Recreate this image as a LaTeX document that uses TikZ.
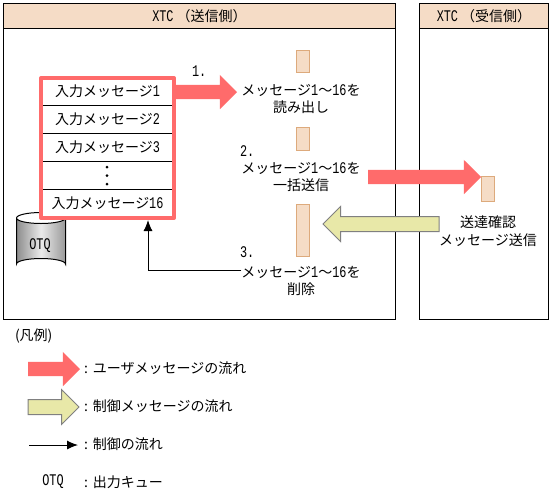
\documentclass[tikz,border=0pt]{standalone}
\usepackage{fontspec}
\setmainfont{Noto Sans CJK JP}
\newfontfamily\latn[FakeStretch=0.73,Scale=1.16]{Liberation Mono}
\newcommand{\hn}[1]{{\latn #1}}
\usetikzlibrary{shapes.arrows,arrows.meta}
\definecolor{hdr}{HTML}{F5DCC6}
\definecolor{hdredge}{HTML}{DDAA7C}
\definecolor{pinkc}{HTML}{FF6B6B}
\definecolor{yel}{HTML}{E8E8A8}
\tikzset{
  x=1pt,y=-1pt,
  every node/.style={font=\fontsize{14}{16}\selectfont,inner sep=0pt,outer sep=0pt},
  panel/.style={draw=black,line width=1pt,anchor=north west},
  header/.style={panel,fill=hdr},
  packet/.style={draw=hdredge,fill=hdr,line width=1pt,minimum width=13pt,anchor=north west},
  inrow/.style={minimum width=133pt,minimum height=28pt,anchor=north west},
  rowline/.style={line width=1pt},
  fatbase/.style={single arrow,single arrow head extend=10pt,anchor=tip},
  userflow/.style={fatbase,fill=pinkc},
  ctrlflow/.style={fatbase,fill=yel,draw=black!50,line width=1pt},
  ctrlline/.style={line width=1pt,-{Latex[length=11pt,width=9pt]}},
  lbl/.style={anchor=west},
}
\newcommand{\shaft}{\rule{0pt}{14pt}}
\newcommand{\lcolon}{\makebox[9pt][l]{:}}
\begin{document}
\begin{tikzpicture}
\useasboundingbox (0,0) rectangle (551,499);
\fill[white] (0,0) rectangle (551,499);
% panels
\node[panel,minimum width=392pt,minimum height=316pt] (send) at (3.5,3.5) {};
\node[header,minimum width=392pt,minimum height=25pt] (sendh) at (3.5,3.5) {\hn{XTC} （送信側）};
\node[panel,minimum width=129pt,minimum height=316pt] (recv) at (419.5,3.5) {};
\node[header,minimum width=129pt,minimum height=25pt] (recvh) at (419.5,3.5) {\hn{XTC} （受信側）};
% cylinder
\shade[left color=black!45,right color=black!40,middle color=black!8,draw=none]
  (16.5,218) -- (16.5,264) arc[start angle=180,end angle=360,x radius=24.5,y radius=5.5]
  -- (65.5,218) arc[start angle=0,end angle=180,x radius=24.5,y radius=5.5] -- cycle;
\draw[line width=1pt] (16.5,218) -- (16.5,264) arc[start angle=180,end angle=360,x radius=24.5,y radius=5.5]
  -- (65.5,218) arc[start angle=0,end angle=180,x radius=24.5,y radius=5.5];
\draw[line width=1pt] (16.5,218) arc[start angle=180,end angle=360,x radius=24.5,y radius=5.5];
\node (otq) at (40,246) {\hn{OTQ}};
% input stack
\node[inrow,fill=white,minimum height=140pt] (stack) at (41,78) {};
\node[inrow,minimum height=27pt] (m1) at (41,78) {入力メッセージ\hn{1}};
\node[inrow] (m2) at (41,105) {入力メッセージ\hn{2}};
\node[inrow] (m3) at (41,133) {入力メッセージ\hn{3}};
\node[inrow] (mdots) at (41,161) {};
\node[inrow,minimum height=29pt] (m16) at (41,189) {入力メッセージ\hn{16}};
\draw[rowline] (m2.north west) -- (m2.north east);
\draw[rowline] (m3.north west) -- (m3.north east);
\draw[rowline] (mdots.north west) -- (mdots.north east);
\draw[rowline] (m16.north west) -- (m16.north east);
\foreach \yy in {167,175.5,184} \fill (107,\yy) circle[radius=1.5];
\draw[pinkc,line width=4pt,line join=round] (stack.north west) rectangle (stack.south east);
% packets
\node[packet,minimum height=22pt] (p1) at (296.5,50.5) {};
\node[packet,minimum height=23pt] (p2) at (296.5,127.5) {};
\node[packet,minimum height=52pt] (p3) at (296.5,204.5) {};
\node[packet,minimum height=25pt] (p4) at (481.5,176.5) {};
% step texts
\node[lbl] (n1) at (192,71) {\hn{1.}};
\node[lbl] (n2) at (240,151) {\hn{2.}};
\node[lbl] (n3) at (240,252) {\hn{3.}};
\node (t1) at (301,90) {メッセージ\hn{1}〜\hn{16}を};
\node (t1b) at (301,107) {読み出し};
\node (t2) at (301,168) {メッセージ\hn{1}〜\hn{16}を};
\node (t2b) at (301,185) {一括送信};
\node (t3) at (301,272) {メッセージ\hn{1}〜\hn{16}を};
\node (t3b) at (301,289) {削除};
\node (t4) at (488,222) {送達確認};
\node (t4b) at (488,240) {メッセージ送信};
% flows
\node[userflow,minimum height=61pt] (a1) at (237,92) {\shaft};
\node[userflow,minimum height=113pt] (a2) at (481,177) {\shaft};
\node[ctrlflow,minimum height=116pt,shape border rotate=180] (a3) at (323,224) {\shaft};
\coordinate (ctrlbend) at (148,270);
\coordinate (ctrlstart) at (t3.west |- ctrlbend);
\coordinate (ctrlend) at (148,220);
\draw[ctrlline] (ctrlstart) -- (ctrlbend) -- (ctrlend);
% legend
\node[lbl] (leg) at (15,336) {(凡例)};
\node[userflow,minimum height=52pt] (la1) at (80,369) {\shaft};
\node[ctrlflow,minimum height=51pt] (la2) at (79,407) {\shaft};
\coordinate (la3a) at (29,445);
\coordinate (la3b) at (78,445);
\draw[ctrlline] (la3a) -- (la3b);
\node[lbl] (lt1) at (84,368) {\lcolon ユーザメッセージの流れ};
\node[lbl] (lt2) at (84,406) {\lcolon 制御メッセージの流れ};
\node[lbl] (lt3) at (84,444) {\lcolon 制御の流れ};
\node (lo) at (53,482) {\hn{OTQ}};
\node[lbl] (lt4) at (84,482) {\lcolon 出力キュー};
\end{tikzpicture}
\end{document}
